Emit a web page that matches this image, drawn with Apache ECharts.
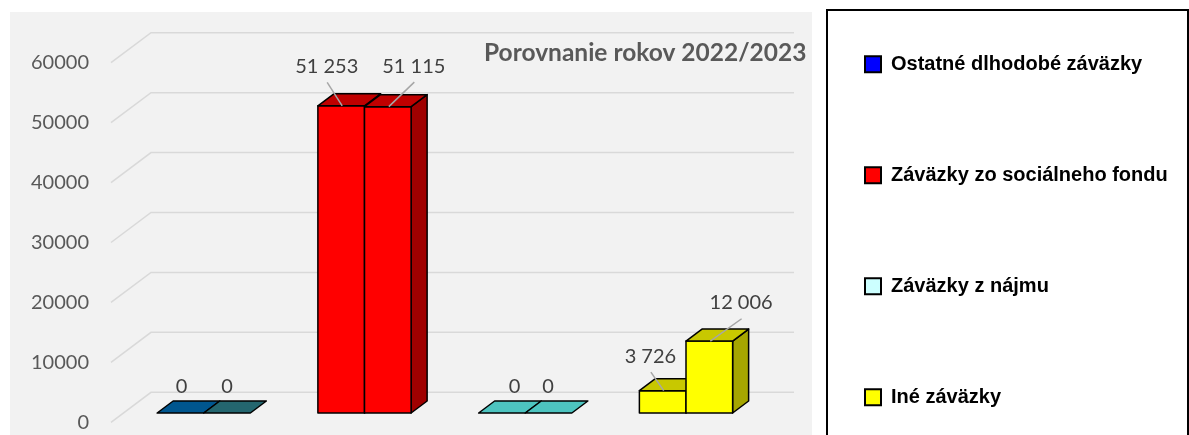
<!DOCTYPE html>
<html>
<head>
<meta charset="utf-8">
<script src="https://cdn.jsdelivr.net/npm/echarts@6/dist/echarts.min.js"></script>
<style>
html,body{margin:0;padding:0;background:#fff;}
#chart{width:1189px;height:435px;}
</style>
</head>
<body>
<div id="chart"></div>
<script>
// ---- data ----
const categories = ['Ostatné dlhodobé záväzky', 'Záväzky zo sociálneho fondu', 'Záväzky z nájmu', 'Iné záväzky'];
const years = ['2022', '2023'];
const values2022 = [0, 51253, 0, 3726];
const values2023 = [0, 51115, 0, 12006];
const yTicks = [0, 10000, 20000, 30000, 40000, 50000, 60000];
const chartTitle = 'Porovnanie rokov 2022/2023';

// ---- styles ----
const legendColors = ['#0000ff', '#ff0000', '#ccffff', '#ffff00'];
const faceColors = [
  [{front:'#005a96', top:'#00568f', side:'#003f6a'}, {front:'#246a73', top:'#24666f', side:'#1a4c52'}],
  [{front:'#ff0000', top:'#c00000', side:'#a00000'}, {front:'#ff0000', top:'#c00000', side:'#a00000'}],
  [{front:'#4dc4c0', top:'#4dc4c0', side:'#3a9c99'}, {front:'#4dc4c0', top:'#4dc4c0', side:'#3a9c99'}],
  [{front:'#ffff00', top:'#c8c800', side:'#a6a600'}, {front:'#ffff00', top:'#c8c800', side:'#a6a600'}]
];
// label offsets relative to bar front-top centre: [dx, dy, leader]
const labelLayout = [
  [[1, -26, false], [0, -26, false]],
  [[-14.5, -39.5, true], [26, -40.5, true]],
  [[12.7, -26, false], [-0.4, -26, false]],
  [[-12.3, -34.6, true], [31.8, -38.3, true]]
];
const DEPTH_X = 40, DEPTH_Y = -30;       // wall depth
const BAR_DX = 16, BAR_DY = -12;          // bar depth
const BAR_OFF_Y = -9.3;                   // bar position inside depth

function fmt(v) {
  return String(v).replace(/\B(?=(\d{3})+(?!\d))/g, ' ');
}

function gridRender(params, api) {
  const cs = params.coordSys;
  const y = api.coord([0, api.value(0)])[1];
  return {
    type: 'polyline',
    shape: {points: [[cs.x, y], [cs.x + DEPTH_X, y + DEPTH_Y], [cs.x + cs.width + DEPTH_X, y + DEPTH_Y]]},
    style: {stroke: '#d9d9d9', lineWidth: 1.5, fill: null}
  };
}

function barRender(params, api) {
  const cat = api.value(0), v = api.value(1), yr = api.value(2);
  const base = api.coord([cat, 0]);
  const top = api.coord([cat, v]);
  const band = api.size([1, 0])[0];
  const bw = band * 0.29;
  const ox = band * 0.077;
  const xl = base[0] + ox - bw + yr * bw;
  const xr = xl + bw;
  const yb = base[1] + BAR_OFF_Y;
  const yt = top[1] + BAR_OFF_Y;
  const c = faceColors[cat][yr];
  const edge = {stroke: '#000', lineWidth: 1.5, lineJoin: 'round'};
  const children = [];
  if (yb - yt > 0.5) {
    children.push({type: 'polygon', shape: {points: [[xr, yt], [xr + BAR_DX, yt + BAR_DY], [xr + BAR_DX, yb + BAR_DY], [xr, yb]]},
      style: Object.assign({fill: c.side}, edge)});
    children.push({type: 'rect', shape: {x: xl, y: yt, width: bw, height: yb - yt},
      style: Object.assign({fill: c.front}, edge)});
  }
  children.push({type: 'polygon', shape: {points: [[xl, yt], [xr, yt], [xr + BAR_DX, yt + BAR_DY], [xl + BAR_DX, yt + BAR_DY]]},
    style: Object.assign({fill: c.top}, edge)});
  const lay = labelLayout[cat][yr];
  const cx = (xl + xr) / 2;
  const lx = cx + lay[0], ly = yt + lay[1];
  if (lay[2]) {
    children.push({type: 'line', shape: {x1: lx + 0.5, y1: ly + 16, x2: cx + 1, y2: yt},
      style: {stroke: '#a6a6a6', lineWidth: 1.5}});
  }
  children.push({type: 'text', style: {text: fmt(v), x: lx, y: ly, fill: '#404040',
    fontSize: 20, fontFamily: 'Lato', align: 'center', verticalAlign: 'middle',
    textAlign: 'center', textVerticalAlign: 'middle'}});
  return {type: 'group', children: children};
}

const series = [{
  type: 'custom', name: 'grid', silent: true, z: 1,
  renderItem: gridRender,
  data: yTicks.map(t => [t]),
  encode: {y: 0}
}];
categories.forEach((name, i) => {
  series.push({
    type: 'custom', name: name, z: 2,
    itemStyle: {color: legendColors[i]},
    renderItem: barRender,
    data: [[i, values2022[i], 0], [i, values2023[i], 1]],
    encode: {x: 0, y: 1}
  });
});

const chart = echarts.init(document.getElementById('chart'), null, {renderer: 'canvas'});
chart.setOption({
  animation: false,
  backgroundColor: '#ffffff',
  title: {
    text: chartTitle, left: 479, top: 36,
    textStyle: {fontFamily: 'Lato', fontWeight: 'bold', fontSize: 24.5, color: '#595959'}
  },
  graphic: [
    {type: 'rect', shape: {x: 10, y: 12, width: 802, height: 430}, style: {fill: '#f2f2f2'}, z: -10},
    {type: 'rect', shape: {x: 827, y: 10, width: 361, height: 440}, style: {fill: '#ffffff', stroke: '#000', lineWidth: 2}, z: -10}
  ],
  legend: {
    orient: 'vertical', left: 859, top: 48.3,
    itemWidth: 16, itemHeight: 16, itemGap: 89, icon: 'rect', selectedMode: false,
    textStyle: {fontFamily: "'Liberation Sans', Arial, sans-serif", fontWeight: 'bold', fontSize: 20, color: '#000', lineHeight: 22, padding: [0, 0, 0, 5]},
    data: categories.map((c, i) => ({name: c, itemStyle: {color: legendColors[i], borderColor: '#000', borderWidth: 2}}))
  },
  grid: {left: 111, right: 435, top: 62.7, bottom: 12.7, containLabel: false},
  xAxis: {
    type: 'category', data: categories, boundaryGap: true,
    axisLine: {show: false}, axisTick: {show: false}, axisLabel: {show: false}, splitLine: {show: false}
  },
  yAxis: {
    type: 'value', min: 0, max: 60000, interval: 10000,
    axisLine: {show: false}, axisTick: {show: false}, splitLine: {show: false},
    axisLabel: {margin: 22, fontFamily: 'Lato', fontSize: 20, color: '#595959', formatter: v => String(v)}
  },
  series: series
});
</script>
</body>
</html>
